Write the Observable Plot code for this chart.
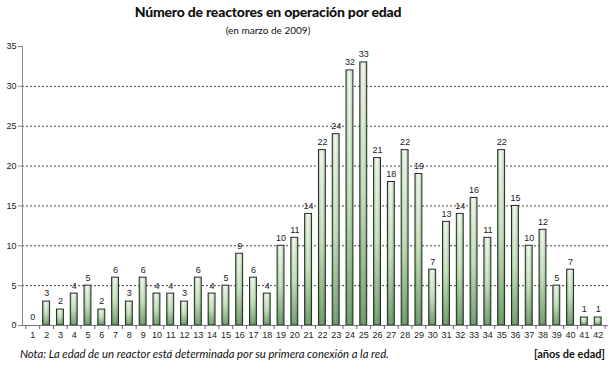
<!DOCTYPE html>
<html><head><meta charset="utf-8">
<script src="https://cdn.jsdelivr.net/npm/d3@7"></script>
<script src="https://cdn.jsdelivr.net/npm/@observablehq/plot@0.6"></script>
<style>
body{margin:0;background:#fff;width:616px;height:370px;overflow:hidden;position:relative;font-family:Lato,"Open Sans",sans-serif;}
#title{position:absolute;top:3px;left:0;width:536px;text-align:center;font-weight:900;font-size:14px;letter-spacing:-0.2px;color:#111;}
#sub{position:absolute;top:24px;left:0;width:536px;text-align:center;font-size:10px;color:#111;}
#chart{position:absolute;top:40px;left:0;}
#note{position:absolute;top:347px;left:20px;font-size:11.3px;font-style:italic;color:#111;}
#unit{position:absolute;top:347px;right:11px;font-size:11px;font-weight:700;color:#111;}
</style></head>
<body>
<div id="title">Número de reactores en operación por edad</div>
<div id="sub">(en marzo de 2009)</div>
<div id="chart"></div>
<div id="note">Nota: La edad de un reactor está determinada por su primera conexión a la red.</div>
<div id="unit">[años de edad]</div>
<script>
const ages = d3.range(1, 43);
const counts = [0,3,2,4,5,2,6,3,6,4,4,3,6,4,5,9,6,4,10,11,14,22,24,32,33,21,18,22,19,7,13,14,16,11,22,15,10,12,5,7,1,1];
const yTicks = [0,5,10,15,20,25,30,35];
const gridTicks = [5,10,15,20,25,30];

const data = ages.map((a, i) => ({age: a, n: counts[i]}));
const W = 616, ML = 22, MR = 8;
const step = (W - ML - MR) / ages.length;

const svg = Plot.plot({
  width: W, height: 305,
  marginTop: 6, marginBottom: 20, marginLeft: ML, marginRight: MR,
  style: {fontFamily: "'Liberation Sans', Arial, sans-serif", fontSize: "9px", color: "#222", background: "#fff"},
  x: {type: "band", domain: ages, padding: 0.5, align: 0.5, axis: null, label: null},
  y: {domain: [0, 35], axis: null, label: null},
  marks: [
    Plot.ruleY(gridTicks, {stroke: "#444", strokeDasharray: "2,2", strokeWidth: 1}),
    Plot.barY(data, {x: "age", y: "n", fill: "url(#gv)"}),
    Plot.barY(data, {x: "age", y: "n", fill: "url(#gh)", stroke: "#1f2e1f", strokeWidth: 1}),
    Plot.text(data, {x: "age", y: "n", text: d => String(d.n), dy: -8, fontSize: 9, fill: "#222"}),
    Plot.ruleY([0], {stroke: "#777"}),
    Plot.frame({anchor: "left", stroke: "#888"}),
    Plot.axisY(yTicks, {tickSize: 4, tickPadding: 2, stroke: "#888", fontSize: 9, fill: "#222", label: null}),
    Plot.axisX(ages, {tickSize: 0, tickPadding: 6, fontSize: 9, fill: "#222", label: null}),
    Plot.axisX(ages, {tickSize: 4, tickFormat: () => "", dx: -step / 2, stroke: "#666", label: null}),
    Plot.axisX([ages[ages.length - 1]], {tickSize: 4, tickFormat: () => "", dx: step / 2, stroke: "#666", label: null})
  ]
});

const ns = "http://www.w3.org/2000/svg";
const defs = document.createElementNS(ns, "defs");
defs.innerHTML = `
<linearGradient id="gv" x1="0" y1="0" x2="0" y2="1">
  <stop offset="0" stop-color="#f2faee"/>
  <stop offset="0.5" stop-color="#c3e0b8"/>
  <stop offset="1" stop-color="#5f8f5b"/>
</linearGradient>
<linearGradient id="gh" x1="0" y1="0" x2="1" y2="0">
  <stop offset="0" stop-color="#2c4a2a" stop-opacity="0.35"/>
  <stop offset="0.45" stop-color="#ffffff" stop-opacity="0.15"/>
  <stop offset="1" stop-color="#2c4a2a" stop-opacity="0.35"/>
</linearGradient>`;
svg.insertBefore(defs, svg.firstChild);
document.getElementById("chart").appendChild(svg);
</script>
</body></html>
